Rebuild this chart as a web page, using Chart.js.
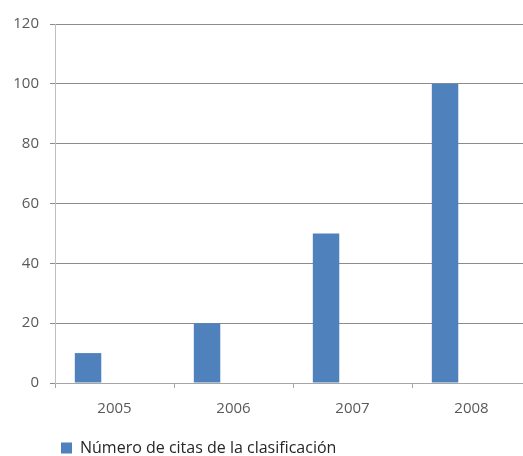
<!DOCTYPE html>
<html>
<head>
<meta charset="utf-8">
<script src="https://cdn.jsdelivr.net/npm/chart.js@4/dist/chart.umd.min.js"></script>
<style>
  html, body { margin: 0; padding: 0; background: #fff; overflow: hidden; }
  #wrap { position: relative; width: 545px; height: 456px; }
</style>
</head>
<body>
<div id="wrap"><canvas id="c" width="545" height="456"></canvas></div>
<script>
// Citas por año
const years = ['2005', '2006', '2007', '2008'];
const citas = [10, 20, 50, 100];
const seriesLabel = 'Número de citas de la clasificación';

const textColor = '#595959';
const font = { family: '"Open Sans", "Noto Sans", sans-serif', size: 15 };

// nudges the legend row to sit under the plot, indented like the axis
const legendPlacement = {
  id: 'legendPlacement',
  afterLayout(chart) {
    const lg = chart.legend;
    if (!lg) return;
    const dy = 10;
    lg.left = 57;
    lg.top += dy;
    lg.bottom += dy;
  }
};

new Chart(document.getElementById('c'), {
  type: 'bar',
  data: {
    labels: years,
    datasets: [
      { label: seriesLabel, data: citas, backgroundColor: '#4F81BD', borderWidth: 0 },
      // two empty series keep the bar slot layout of a three-series group
      { label: '', data: [], backgroundColor: 'rgba(0,0,0,0)' },
      { label: '', data: [], backgroundColor: 'rgba(0,0,0,0)' }
    ]
  },
  options: {
    responsive: false,
    animation: false,
    devicePixelRatio: 1,
    layout: { padding: { left: 0, right: 14, top: 24, bottom: 0 } },
    datasets: { bar: { categoryPercentage: 0.667, barPercentage: 1 } },
    scales: {
      x: {
        grid: { offset: true, drawOnChartArea: false, drawTicks: true, tickLength: 5, color: '#a6a6a6' },
        border: { color: '#a6a6a6' },
        ticks: { color: textColor, font: font, padding: 12, maxRotation: 0 },
        afterFit: s => { s.height = 43; }
      },
      y: {
        min: 0, max: 120,
        grid: { color: '#8c8c8c', tickLength: 5, drawTicks: true },
        border: { color: '#bfbfbf' },
        ticks: { color: textColor, font: font, padding: 11, stepSize: 20 },
        afterFit: s => { s.width = 55; }
      }
    },
    plugins: {
      legend: {
        position: 'bottom',
        align: 'start',
        labels: {
          color: '#262626',
          font: { family: font.family, size: 16 },
          boxWidth: 11,
          boxHeight: 11,
          padding: 4,
          filter: item => item.datasetIndex === 0
        }
      },
      tooltip: { enabled: false }
    }
  },
  plugins: [legendPlacement]
});
</script>
</body>
</html>
